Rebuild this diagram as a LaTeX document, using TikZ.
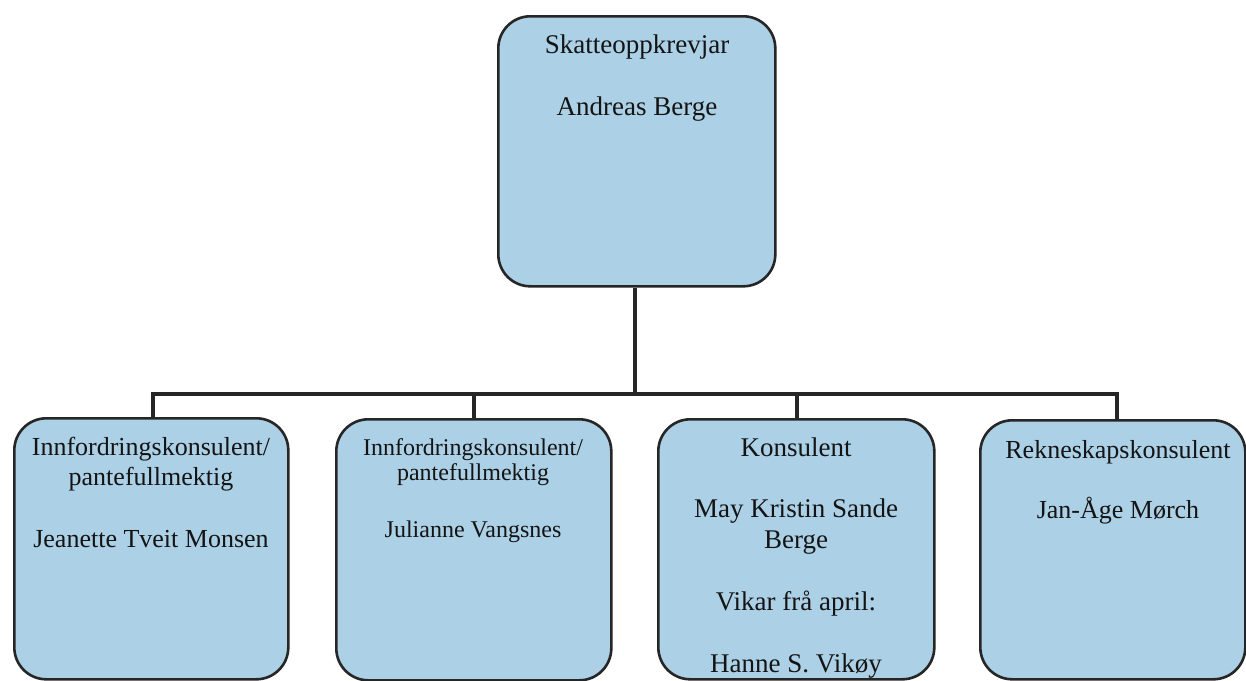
\documentclass[tikz,border=0pt]{standalone}
\usepackage{fontspec}
\setmainfont{Liberation Serif}
\definecolor{boxfill}{RGB}{172,208,230}
\definecolor{edgecol}{RGB}{38,38,38}
\begin{document}
\begin{tikzpicture}[x=1pt,y=-1pt,
  orgbox/.style={draw=edgecol,line width=2.6pt,fill=boxfill,rounded corners=32pt,inner sep=0pt,anchor=north west},
  lbl/.style={align=center,anchor=base,inner sep=0pt,text=black!92},
  big/.style={font=\fontsize{27}{31}\selectfont},
  mid/.style={font=\fontsize{26}{30}\selectfont},
  small/.style={font=\fontsize{24}{25.5}\selectfont},
  conn/.style={draw=edgecol,line width=4.5pt}]
\useasboundingbox[fill=white] (0,0) rectangle (1246,680);
% boxes
\node[orgbox,minimum width=277pt,minimum height=270pt] (top) at (497,15) {};
\node[orgbox,minimum width=274pt,minimum height=261pt] (b1) at (13,417) {};
\node[orgbox,minimum width=275pt,minimum height=261pt] (b2) at (335,418) {};
\node[orgbox,minimum width=276pt,minimum height=260pt] (b3) at (657,418) {};
\node[orgbox,minimum width=265pt,minimum height=259pt] (b4) at (979,419) {};
% texts (anchored at the baseline of the last line)
\node[lbl,big] (ttop) at (637,115) {Skatteoppkrevjar\\[31pt]Andreas Berge};
\node[lbl,mid] (t1) at (151,547) {Innfordringskonsulent/\\pantefullmektig\\[32pt]Jeanette Tveit Monsen};
\node[lbl,small] (t2) at (473,537) {Innfordringskonsulent/\\pantefullmektig\\[31pt]Julianne Vangsnes};
\node[lbl,big] (t3) at (796,672) {Konsulent\\[30pt]May Kristin Sande\\Berge\\[31pt]Vikar frå april:\\[31pt]Hanne S. Vikøy};
\node[lbl,mid] (t4) at (1118,518) {Rekneskapskonsulent\\[30pt]Jan-Åge Mørch};
% connectors
\coordinate (bus) at (635,394);
\draw[conn] (top.south -| bus) -- (bus);
\draw[conn] (b1.north -| 153,0) |- (bus) -| (b4.north -| 1117,0);
\draw[conn] (bus -| 474,0) -- (b2.north -| 474,0);
\draw[conn] (bus -| 797,0) -- (b3.north -| 797,0);
\end{tikzpicture}
\end{document}
